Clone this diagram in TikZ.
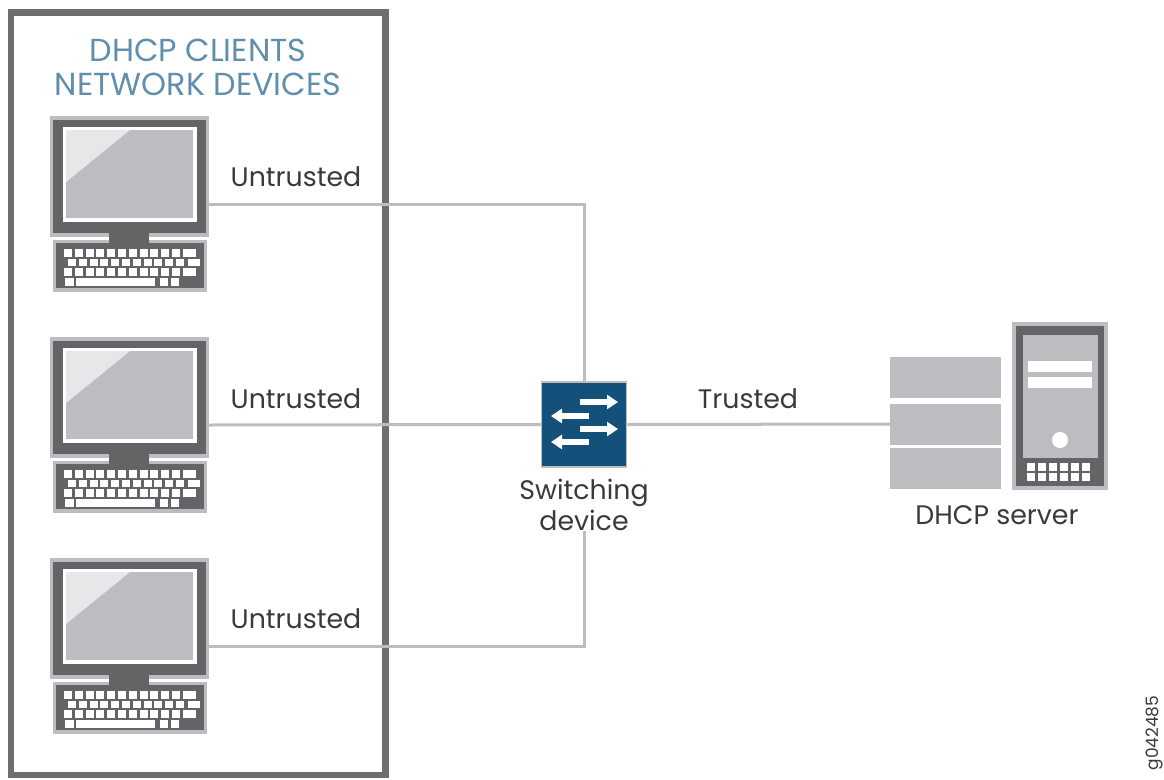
\documentclass[tikz,border=0pt]{standalone}
\usepackage{fontspec}
\setmainfont{Poppins}
\definecolor{dk}{HTML}{636466}
\definecolor{fr}{HTML}{6D6E71}
\definecolor{lt}{HTML}{BCBDC0}
\definecolor{pale}{HTML}{E6E7E8}
\definecolor{swblue}{HTML}{14517A}
\definecolor{title}{HTML}{5F8FAD}
\definecolor{txt}{HTML}{3A3A3C}
\usetikzlibrary{arrows.meta}
\tikzset{
  link/.style={draw=lt,line width=3pt},
  lab/.style={font=\fontsize{26.8}{31}\selectfont,text=txt,inner sep=0pt,align=center},
  ttl/.style={font=\fontsize{31.8}{34}\selectfont,text=title,inner sep=0pt,align=center},
  stackbox/.style={fill=lt,draw=none,inner sep=0pt,minimum width=111pt,minimum height=41pt},
  pc/.pic={
    \fill[lt] (49.5,116) rectangle (209,236.5);
    \fill[dk] (53,120) rectangle (206,233);
    \fill[white] (62.5,126.5) rectangle (196.5,222);
    \fill[lt] (66,130) rectangle (193,218);
    \fill[pale] (66,130) -- (130,130) -- (66,182) -- cycle;
    \fill[lt] (53,240) rectangle (207,292);
    \fill[dk] (56,243) rectangle (204,288);
    \fill[dk] (109,233) rectangle (149,243);
    \foreach \k in {0,...,10}{
      \fill[white] ({64+10.8*\k},249) rectangle ++(8,7.5);
      \fill[white] ({68+10.8*\k},258.5) rectangle ++(8,7.5);
      \fill[white] ({64+10.8*\k},268) rectangle ++(8,7.5);
    }
    \fill[white] (183,249) rectangle (195.5,256.5);
    \fill[white] (187.5,258.5) rectangle (200,266);
    \fill[white] (183,268) rectangle (195.5,275.5);
    \fill[white] (65,278) rectangle (73.5,285.5);
    \fill[white] (76,278) rectangle (155,285.5);
    \fill[white] (160,278) rectangle (168,285.5);
    \fill[white] (170.5,278) rectangle (178.5,285.5);
    \coordinate (-port) at (209,204);
  },
  swarrow/.style={white,line width=5.5pt,-{Triangle[length=11pt,width=14pt]}}
}
\begin{document}
\begin{tikzpicture}[x=1pt,y=-1pt]
\useasboundingbox (0,0) rectangle (1164,779);
\fill[white] (0,0) rectangle (1164,779);
% frame
\node[draw=fr,line width=6.5pt,inner sep=0pt,minimum width=374.5pt,minimum height=762.7pt] (frame) at (198,393.6) {};
\node[ttl] (ttl1) at (198,50.5) {DHCP CLIENTS};
\node[ttl] (ttl2) at (198,84.5) {NETWORK DEVICES};
% computers
\pic (pc1) at (0,0) {pc};
\pic (pc2) at (0,221) {pc};
\pic (pc3) at (0,442) {pc};
% switch
\node[fill=swblue,draw=lt,line width=1.5pt,inner sep=0pt,minimum width=85pt,minimum height=85pt] (sw) at (584,424.5) {};
\node[lab] (swlab) at (584,505) {Switching\\device};
% server stack
\node[stackbox] (st1) at (945.5,377.5) {};
\node[stackbox] (st2) at (945.5,424) {};
\node[stackbox] (st3) at (945.5,468.5) {};
% tower
\node[fill=dk,draw=lt,line width=3.5pt,inner sep=0pt,minimum width=92pt,minimum height=164pt] (tower) at (1060,406) {};
\fill[lt] (1023,335) rectangle (1098,458);
\fill[white] (1028,361) rectangle (1092,372);
\fill[white] (1028,377) rectangle (1092,388);
\fill[white] (1060,440) circle (8);
\foreach \k in {0,...,5}{
  \fill[white] ({1027+10.9*\k},463) rectangle ++(8,8);
  \fill[white] ({1027+10.9*\k},473) rectangle ++(8,8);
}
% connectors
\draw[link] (pc1-port) -| (sw.north);
\draw[link] (pc2-port) -- (sw.west);
\draw[link] (pc3-port) -| (swlab.south);
\draw[link] (sw.east) -- (st2.west);
% switch arrows
\coordinate (a1s) at (580,402); \coordinate (a1e) at (618,402);
\coordinate (a2s) at (589,416); \coordinate (a2e) at (551,416);
\coordinate (a3s) at (580,429); \coordinate (a3e) at (618,429);
\coordinate (a4s) at (589,442); \coordinate (a4e) at (551,442);
\draw[swarrow] (a1s) -- (a1e);
\draw[swarrow] (a2s) -- (a2e);
\draw[swarrow] (a3s) -- (a3e);
\draw[swarrow] (a4s) -- (a4e);
% labels
\node[lab] (u1) at (296,177) {Untrusted};
\node[lab] (u2) at (296,399) {Untrusted};
\node[lab] (u3) at (296,619) {Untrusted};
\node[lab] (tr) at (748,399) {Trusted};
\node[lab] (srv) at (997,515) {DHCP server};
\node[font=\fontsize{17}{18}\selectfont,text=txt,inner sep=0pt,rotate=90] (gid) at (1155,733) {g042485};
\end{tikzpicture}
\end{document}
